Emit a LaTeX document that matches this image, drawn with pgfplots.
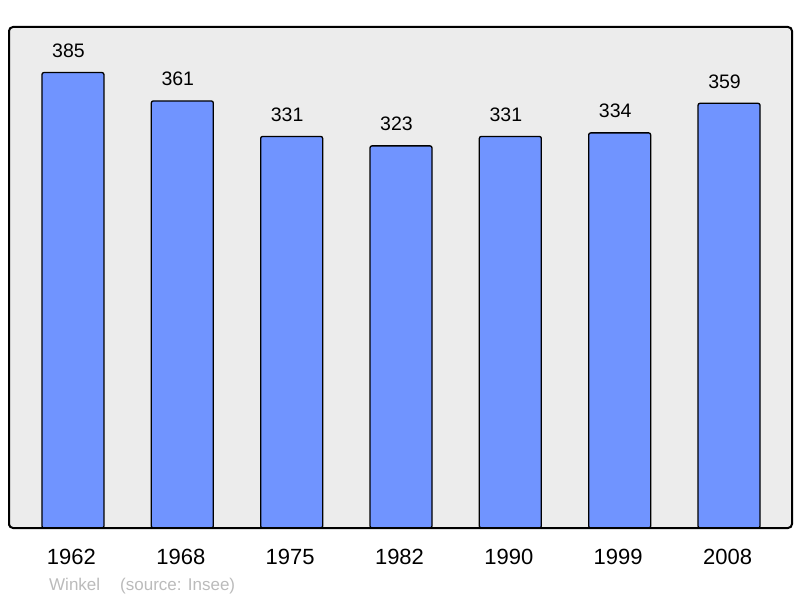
\documentclass[border=0pt]{standalone}
\usepackage{pgfplots}
\pgfplotsset{compat=1.18}
\usepackage{fontspec}
\setmainfont{Liberation Sans}
\definecolor{barblue}{RGB}{112,148,255}
\definecolor{bg}{RGB}{236,236,236}
\definecolor{src}{RGB}{187,187,187}
\begin{document}
\begin{tikzpicture}[x=1pt,y=1pt]
\path (-9,-70) rectangle (791,528);
\begin{axis}[name=ax, at={(0,0)}, anchor=south west,
  scale only axis, width=783pt, height=501pt,
  xmin=-0.585, xmax=6.576, ymin=0, ymax=423.5,
  axis background/.style={fill=bg},
  axis line style={line width=2pt, rounded corners=4pt},
  axis on top=true,
  ybar, bar width=62pt, bar shift=0pt,
  ytick=\empty, xtick={0,1,2,3,4,5,6},
  xticklabels={1962,1968,1975,1982,1990,1999,2008},
  major tick length=0pt,
  xticklabel style={font=\fontsize{22}{26}\selectfont, anchor=base, yshift=-36.5pt, xshift=-1.5pt, inner sep=0pt},
  /pgf/number format/assume math mode=true,
  nodes near coords,
  nodes near coords style={font=\fontsize{19.5}{23}\selectfont, anchor=base, yshift=15pt, xshift=-4.5pt, inner sep=0pt, text=black},
]
\addplot[fill=barblue, draw=black, line width=1.3pt, rounded corners=2pt] coordinates {
(0,385) (1,361) (2,331) (3,323) (4,331) (5,334) (6,359)};
\end{axis}
\node[anchor=base west, inner sep=0pt, text=src, font=\fontsize{17}{20}\selectfont] at (40,-62) {Winkel};
\node[anchor=base west, inner sep=0pt, text=src, font=\fontsize{17}{20}\selectfont] at (111,-62) {(source: Insee)};
\end{tikzpicture}
\end{document}
